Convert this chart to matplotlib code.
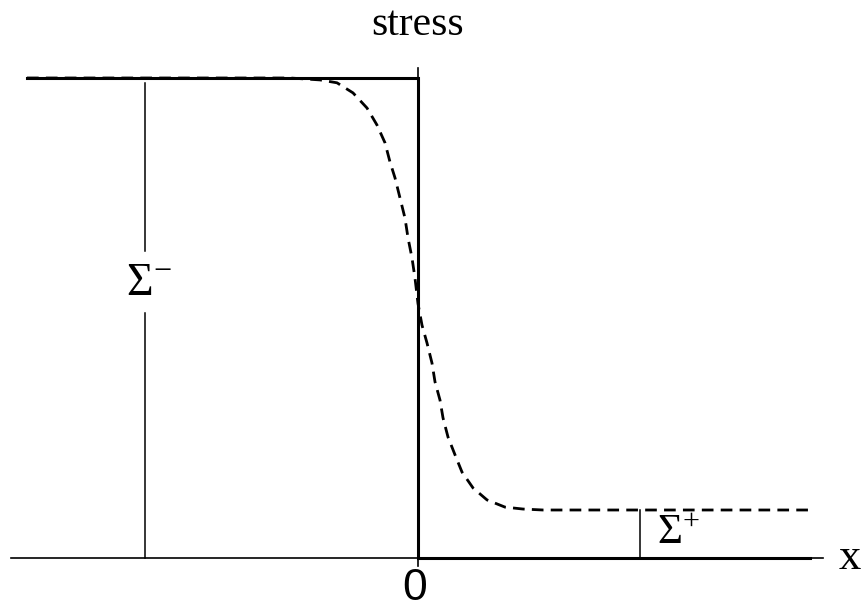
import numpy as np
import matplotlib
matplotlib.use("Agg")
import matplotlib.pyplot as plt

# Sharp step (solid) and smeared profile (dashed), x in units of 100 px, stress normalised to Sigma-
step_x = [-3.91, 0.0, 0.0, 3.92]
step_y = [1.0, 1.0, 0.0, 0.0]

smooth_x = [-3.91, -1.28, -0.98, -0.81, -0.65, -0.51, -0.41, -0.33, -0.28,
            -0.23, -0.18, -0.13, -0.10, -0.06, -0.03, 0.00, 0.04, 0.09,
            0.14, 0.17, 0.22, 0.25, 0.30, 0.37, 0.44, 0.55, 0.69, 0.87,
            1.05, 1.25, 3.92]
smooth_y = [1.0, 1.0, 0.996, 0.990, 0.969, 0.9375, 0.902, 0.865, 0.825,
            0.792, 0.750, 0.708, 0.667, 0.625, 0.583, 0.530, 0.485, 0.448,
            0.406, 0.367, 0.329, 0.292, 0.252, 0.215, 0.179, 0.146, 0.121, 0.106,
            0.102, 0.100, 0.100]

sigma_minus = 1.0
sigma_plus = 0.10
sigma_minus_x = -2.73
sigma_plus_x = 2.22

plt.rcParams['mathtext.fontset'] = 'custom'
plt.rcParams['mathtext.rm'] = 'Liberation Serif'
plt.rcParams['mathtext.it'] = 'Liberation Serif:italic'

fig = plt.figure(figsize=(8.64, 6.12), dpi=100)
ax = fig.add_axes([0, 0, 1, 1])
ax.set_xlim(-4.18, 4.46)
ax.set_ylim(-0.1125, 1.1625)
ax.axis('off')

# axes
ax.plot([-4.07, 4.05], [0, 0], color='black', lw=1.2)
ax.plot([0, 0], [-0.017, 1.02], color='black', lw=1.2)

# profiles
ax.plot(smooth_x, smooth_y, color='black', lw=2.0, dashes=(4.2, 2.6), zorder=2)
ax.plot(step_x, step_y, color='black', lw=2.2, solid_joinstyle='miter', zorder=3)

# Sigma- marker
ax.plot([sigma_minus_x, sigma_minus_x], [0.0, 0.51], color='black', lw=1.1)
ax.plot([sigma_minus_x, sigma_minus_x], [0.64, 0.99], color='black', lw=1.1)
ax.text(sigma_minus_x + 0.04, 0.575, r'$\Sigma^{-}$', fontsize=33,
        ha='center', va='center')

# Sigma+ marker
ax.plot([sigma_plus_x, sigma_plus_x], [0.0, sigma_plus], color='black', lw=1.1)
ax.text(sigma_plus_x + 0.17, 0.055, r'$\Sigma^{+}$', fontsize=31,
        ha='left', va='center')

ax.text(0, 1.11, 'stress', fontsize=30, family='Liberation Serif',
        ha='center', va='center')
ax.text(4.32, 0.0, 'x', fontsize=32, family='Liberation Serif',
        ha='center', va='center')
ax.text(-0.03, -0.063, '0', fontsize=32, family='Liberation Sans',
        ha='center', va='center')

fig.savefig('out.png', dpi=100)
